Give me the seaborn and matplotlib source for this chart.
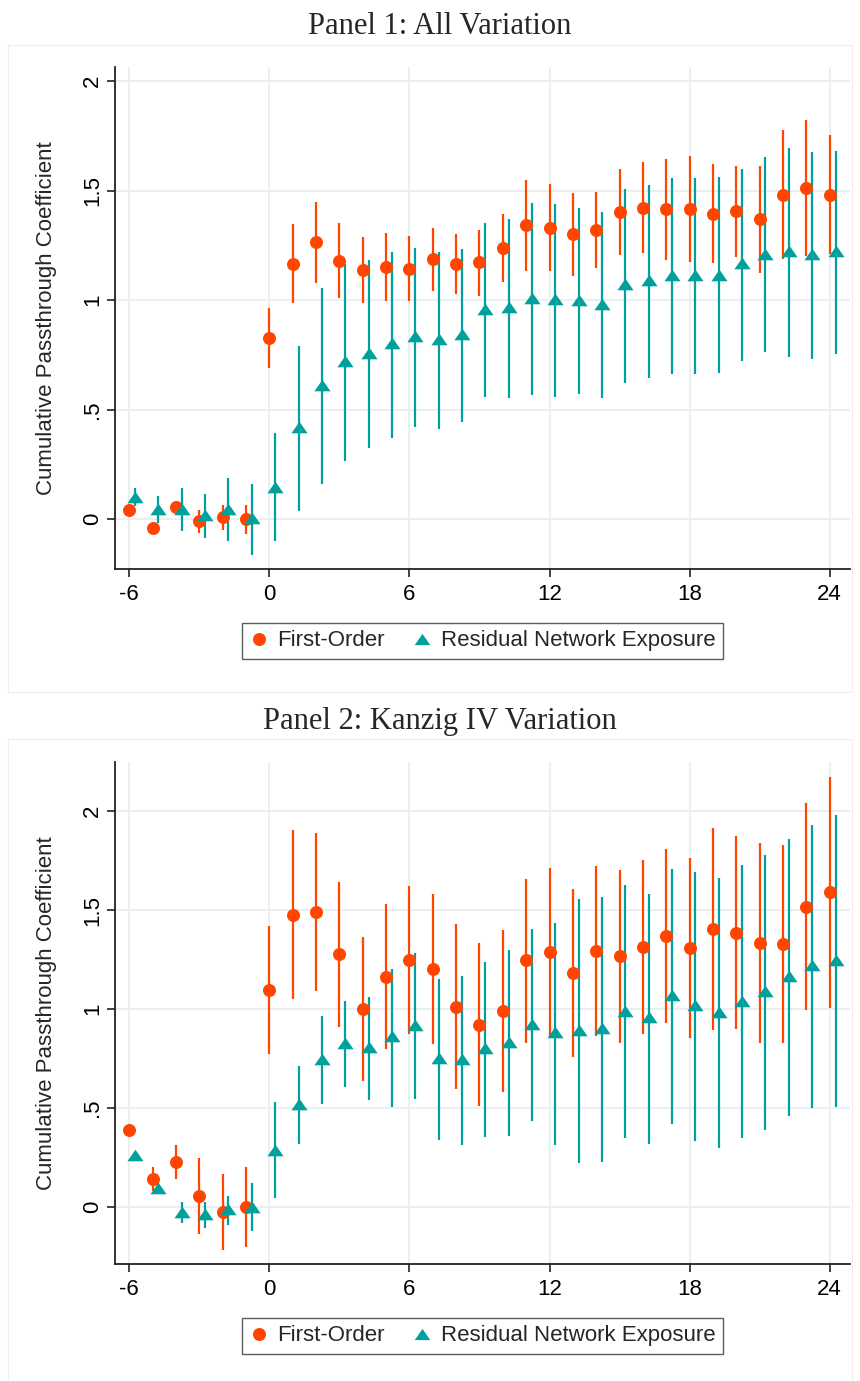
import numpy as np
import pandas as pd
import seaborn as sns
import matplotlib.pyplot as plt
from matplotlib.path import Path
from matplotlib.lines import Line2D
from matplotlib.patches import Rectangle

# horizon (months)
horizon = list(range(-6, 25))

# Panel 1: All Variation
fo1 = [0.04, -0.04, 0.053, -0.011, 0.009, 0.0, 0.827, 1.164, 1.263, 1.179, 1.137, 1.149, 1.141, 1.187, 1.164, 1.172,
       1.239, 1.342, 1.331, 1.301, 1.322, 1.40, 1.421, 1.414, 1.416, 1.395, 1.406, 1.368, 1.48, 1.512, 1.479]
fo1_lo = [0.03, -0.05, 0.023, -0.064, -0.049, -0.066, 0.688, 0.985, 1.079, 1.01, 0.988, 0.994, 0.997, 1.041, 1.027, 1.018,
          1.084, 1.134, 1.132, 1.111, 1.145, 1.205, 1.213, 1.182, 1.175, 1.167, 1.197, 1.122, 1.186, 1.2, 1.21]
fo1_hi = [0.05, -0.03, 0.083, 0.04, 0.066, 0.066, 0.962, 1.345, 1.448, 1.35, 1.286, 1.304, 1.292, 1.331, 1.3, 1.322,
          1.394, 1.547, 1.529, 1.49, 1.494, 1.597, 1.628, 1.644, 1.657, 1.623, 1.614, 1.611, 1.778, 1.824, 1.752]
ne1 = [0.10, 0.048, 0.048, 0.018, 0.048, 0.003, 0.147, 0.421, 0.611, 0.722, 0.76, 0.804, 0.836, 0.824, 0.845, 0.96,
       0.968, 1.008, 1.006, 0.998, 0.983, 1.073, 1.091, 1.115, 1.115, 1.116, 1.167, 1.211, 1.225, 1.208, 1.223]
ne1_lo = [0.06, -0.018, -0.056, -0.087, -0.099, -0.163, -0.102, 0.039, 0.16, 0.266, 0.324, 0.369, 0.422, 0.412, 0.442, 0.559,
          0.552, 0.567, 0.559, 0.571, 0.555, 0.623, 0.643, 0.663, 0.663, 0.666, 0.723, 0.762, 0.739, 0.73, 0.754]
ne1_hi = [0.144, 0.106, 0.141, 0.114, 0.187, 0.161, 0.392, 0.792, 1.053, 1.164, 1.182, 1.22, 1.236, 1.218, 1.231, 1.35,
          1.368, 1.444, 1.44, 1.418, 1.40, 1.509, 1.527, 1.555, 1.557, 1.561, 1.60, 1.651, 1.696, 1.674, 1.679]

# Panel 2: Kanzig IV Variation
fo2 = [0.387, 0.138, 0.224, 0.054, -0.028, -0.003, 1.098, 1.475, 1.488, 1.276, 0.998, 1.162, 1.246, 1.204, 1.01, 0.921,
       0.988, 1.246, 1.29, 1.184, 1.293, 1.266, 1.313, 1.369, 1.308, 1.406, 1.386, 1.335, 1.33, 1.515, 1.591]
fo2_lo = [0.377, 0.081, 0.138, -0.138, -0.219, -0.202, 0.771, 1.049, 1.091, 0.909, 0.635, 0.795, 0.871, 0.82, 0.593, 0.509,
          0.581, 0.83, 0.864, 0.758, 0.864, 0.83, 0.872, 0.929, 0.854, 0.892, 0.897, 0.83, 0.83, 0.993, 1.007]
fo2_hi = [0.397, 0.199, 0.312, 0.244, 0.165, 0.199, 1.419, 1.903, 1.889, 1.641, 1.364, 1.529, 1.62, 1.583, 1.431, 1.333,
          1.401, 1.659, 1.712, 1.608, 1.721, 1.701, 1.751, 1.81, 1.765, 1.916, 1.874, 1.838, 1.83, 2.04, 2.175]
ne2 = [0.259, 0.093, -0.025, -0.035, -0.012, -0.002, 0.286, 0.519, 0.748, 0.828, 0.807, 0.861, 0.919, 0.751, 0.748, 0.80,
       0.833, 0.926, 0.881, 0.891, 0.902, 0.988, 0.958, 1.069, 1.019, 0.983, 1.039, 1.088, 1.165, 1.221, 1.248]
ne2_lo = [0.249, 0.07, -0.081, -0.109, -0.092, -0.123, 0.046, 0.315, 0.519, 0.603, 0.539, 0.502, 0.544, 0.337, 0.312, 0.354,
          0.357, 0.434, 0.312, 0.222, 0.227, 0.345, 0.317, 0.416, 0.333, 0.295, 0.345, 0.387, 0.46, 0.5, 0.505]
ne2_hi = [0.269, 0.12, 0.025, 0.025, 0.056, 0.118, 0.527, 0.712, 0.965, 1.04, 1.058, 1.204, 1.283, 1.153, 1.167, 1.237,
          1.30, 1.406, 1.434, 1.558, 1.566, 1.625, 1.583, 1.709, 1.692, 1.662, 1.726, 1.776, 1.861, 1.931, 1.978]

series_names = ['First-Order', 'Residual Network Exposure']
x_shift = [0.0, 0.25]
colors = {'First-Order': '#ff4500', 'Residual Network Exposure': '#00a19c'}
xticks = [-6, 0, 6, 12, 18, 24]
yticks = [0, 0.5, 1, 1.5, 2]
ytick_labels = ['0', '.5', '1', '1.5', '2']

sns.set_theme(style='white')
plt.rcParams['font.family'] = ['Liberation Sans', 'DejaVu Sans']
plt.rcParams['axes.unicode_minus'] = False

# wide, flat triangle like Stata's
tri = Path([(0, 0.72), (-1, -0.72), (1, -0.72), (0, 0.72)],
           [Path.MOVETO, Path.LINETO, Path.LINETO, Path.CLOSEPOLY])
markers = {'First-Order': 'o', 'Residual Network Exposure': tri}
sizes_pt = {'First-Order': 88, 'Residual Network Exposure': 135}


def build_df(fo, fo_lo, fo_hi, ne, ne_lo, ne_hi):
    frames = []
    for name, shift, y, lo, hi in [(series_names[0], x_shift[0], fo, fo_lo, fo_hi),
                                   (series_names[1], x_shift[1], ne, ne_lo, ne_hi)]:
        frames.append(pd.DataFrame({'x': np.array(horizon) + shift, 'y': y, 'lo': lo, 'hi': hi, 'series': name}))
    return pd.concat(frames, ignore_index=True)


def draw_panel(ax, df, ylim):
    for name in series_names:
        d = df[df['series'] == name]
        ax.vlines(d['x'], d['lo'], d['hi'], color=colors[name], lw=1.6, zorder=2)
    for name in series_names:
        d = df[df['series'] == name]
        sns.scatterplot(data=d, x='x', y='y', ax=ax, color=colors[name], marker=markers[name],
                        s=sizes_pt[name], linewidth=0, zorder=3, legend=False)
    ax.set_xlim(-6.61, 24.87)
    ax.set_ylim(*ylim)
    ax.set_xticks(xticks)
    ax.set_yticks(yticks)
    ax.set_yticklabels(ytick_labels, rotation=90, va='center')
    ax.grid(True, color='#e7eff1', lw=1.3)
    ax.set_axisbelow(True)
    for s in ['top', 'right']:
        ax.spines[s].set_visible(False)
    for s in ['left', 'bottom']:
        ax.spines[s].set_color('#222222')
        ax.spines[s].set_linewidth(1.3)
    ax.tick_params(axis='both', which='major', direction='out', length=5.8, width=1.2,
                   color='#222222', labelsize=16, labelcolor='black', left=True, bottom=True)
    ax.tick_params(axis='x', pad=5)
    ax.tick_params(axis='y', pad=3)
    ax.set_xlabel('')
    ax.set_ylabel('Cumulative Passthrough Coefficient', fontsize=16)
    ax.yaxis.set_label_coords(-0.079, 0.5)
    handles = [Line2D([], [], ls='none', marker=markers[n], color=colors[n],
                      markersize=9.4 if n == 'First-Order' else 11.2, markeredgewidth=0) for n in series_names]
    leg = ax.legend(handles, series_names, loc='center', bbox_to_anchor=(0.5, -0.143), ncol=2,
                    fontsize=16, frameon=True, fancybox=False, handlelength=0.8, handletextpad=0.45,
                    columnspacing=1.25, borderpad=0.35, borderaxespad=0)
    leg.get_frame().set_edgecolor('#333333')
    leg.get_frame().set_linewidth(1.0)


fig = plt.figure(figsize=(8.6, 13.81), dpi=100)

# faint graph-region frames
fig.patches.append(Rectangle((8 / 860, 1 - 692 / 1381), 844 / 860, 647 / 1381, transform=fig.transFigure,
                             fill=False, ec='#eeeeee', lw=0.8))
fig.patches.append(Rectangle((8 / 860, -0.01), 844 / 860, (1381 - 739) / 1381 + 0.01, transform=fig.transFigure,
                             fill=False, ec='#eeeeee', lw=0.8))

ax1 = fig.add_axes([115 / 860, 1 - 569 / 1381, 735 / 860, 502 / 1381])
ax2 = fig.add_axes([115 / 860, 1 - 1264 / 1381, 735 / 860, 502.3 / 1381])

draw_panel(ax1, build_df(fo1, fo1_lo, fo1_hi, ne1, ne1_lo, ne1_hi), (-0.228, 2.064))
draw_panel(ax2, build_df(fo2, fo2_lo, fo2_hi, ne2, ne2_lo, ne2_hi), (-0.29, 2.25))

fig.text(440 / 860, 1 - 33.5 / 1381, 'Panel 1: All Variation', ha='center', va='baseline',
         fontsize=22, family=['Liberation Serif', 'DejaVu Serif'])
fig.text(440 / 860, 1 - 728.5 / 1381, 'Panel 2: Kanzig IV Variation', ha='center', va='baseline',
         fontsize=22, family=['Liberation Serif', 'DejaVu Serif'])

fig.savefig('out.png', dpi=100, facecolor='white')
